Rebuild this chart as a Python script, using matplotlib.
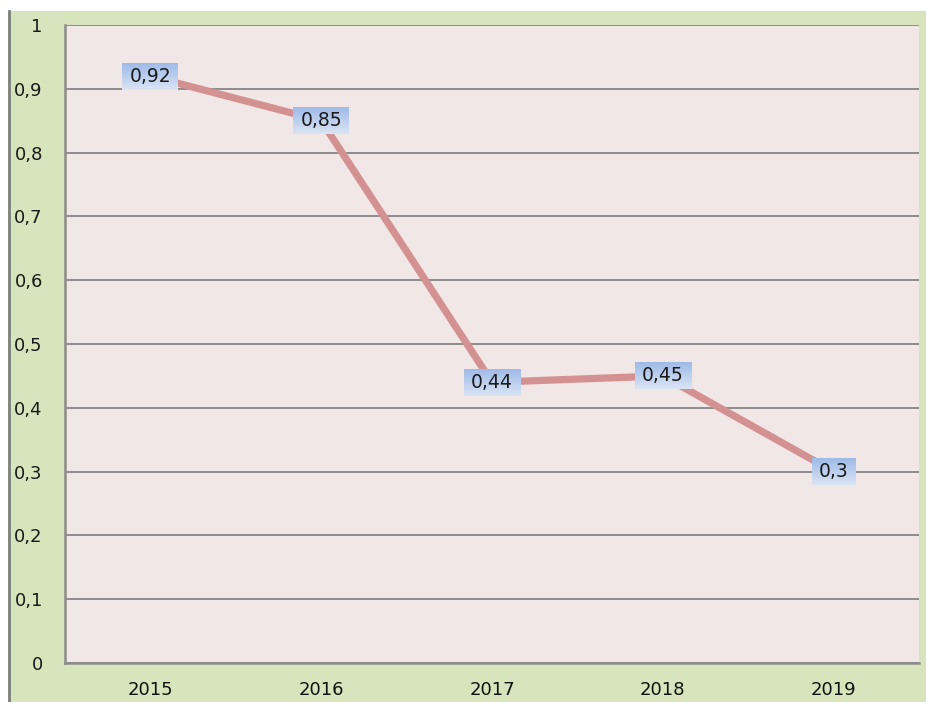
# -*- coding: utf-8 -*-

import matplotlib
matplotlib.use("Agg")
import matplotlib.pyplot as plt
import numpy as np
from matplotlib.patches import Rectangle
from matplotlib.lines import Line2D
from matplotlib.colors import LinearSegmentedColormap

# Data ########################################################

anos = ["2015", "2016", "2017", "2018", "2019"]
valores = [0.92, 0.85, 0.44, 0.45, 0.3]
rotulos = ["0,92", "0,85", "0,44", "0,45", "0,3"]
yticks = [0, 0.1, 0.2, 0.3, 0.4, 0.5, 0.6, 0.7, 0.8, 0.9, 1]
ytick_labels = ["0", "0,1", "0,2", "0,3", "0,4", "0,5", "0,6", "0,7", "0,8", "0,9", "1"]

# Figure ######################################################

plt.rcParams['font.family'] = ['DejaVu Sans']

W, H = 926, 702
fig = plt.figure(figsize=(W / 100, H / 100), dpi=100)
fig.patch.set_facecolor("white")

# green chart area + dark left edge (behind the axes)
fig.patches.append(Rectangle((8 / W, 0), 1, 691 / H, transform=fig.transFigure,
                             facecolor="#d8e4bc", edgecolor="none", zorder=-2))
fig.lines.append(Line2D([8.5 / W, 8.5 / W], [0, 691 / H], transform=fig.transFigure,
                        color="#7f7f7f", linewidth=2, zorder=-1))

ax_w, ax_h = 854, 638
ax = fig.add_axes([65 / W, 39 / H, ax_w / W, ax_h / H])
ax.set_zorder(1)
ax.set_facecolor("#f2e7e7")

x = np.arange(len(anos))
ax.plot(x, valores, color="#d49191", linewidth=5.2, solid_capstyle="butt", zorder=3)

# data labels: boxes with a blue vertical gradient
grad = LinearSegmentedColormap.from_list("rot", ["#d9e4f4", "#9fbbe8"])
px_x = len(anos) / ax_w   # data units per pixel
px_y = 1.0 / ax_h
for xi, v, r in zip(x, valores, rotulos):
    bw = (20 + 12 * (len(r) - 1)) * px_x
    bh = 27 * px_y
    ax.imshow(np.linspace(0, 1, 32).reshape(-1, 1), cmap=grad, aspect="auto",
              extent=(xi - bw / 2, xi + bw / 2, v - bh / 2, v + bh / 2),
              origin="lower", zorder=4, interpolation="bilinear")
    ax.text(xi, v, r, ha="center", va="center", fontsize=13.5, color="#1a1a1a", zorder=5)

ax.set_xlim(-0.5, len(anos) - 0.5)
ax.set_ylim(0, 1)
ax.set_yticks(yticks)
ax.set_yticklabels(ytick_labels, fontsize=13, color="#1a1a1a")
ax.set_xticks(x)
ax.set_xticklabels(anos, fontsize=13, color="#111111")
ax.tick_params(axis="y", length=0, pad=16)
ax.tick_params(axis="x", length=0, pad=13)

ax.grid(axis="y", color="#8c8c8c", linewidth=1.4)
ax.set_axisbelow(True)
for s in ["top", "right"]:
    ax.spines[s].set_visible(False)
for s in ["left", "bottom"]:
    ax.spines[s].set_color("#8c8c8c")
    ax.spines[s].set_linewidth(1.8)

plt.savefig("out.png", dpi=100)
